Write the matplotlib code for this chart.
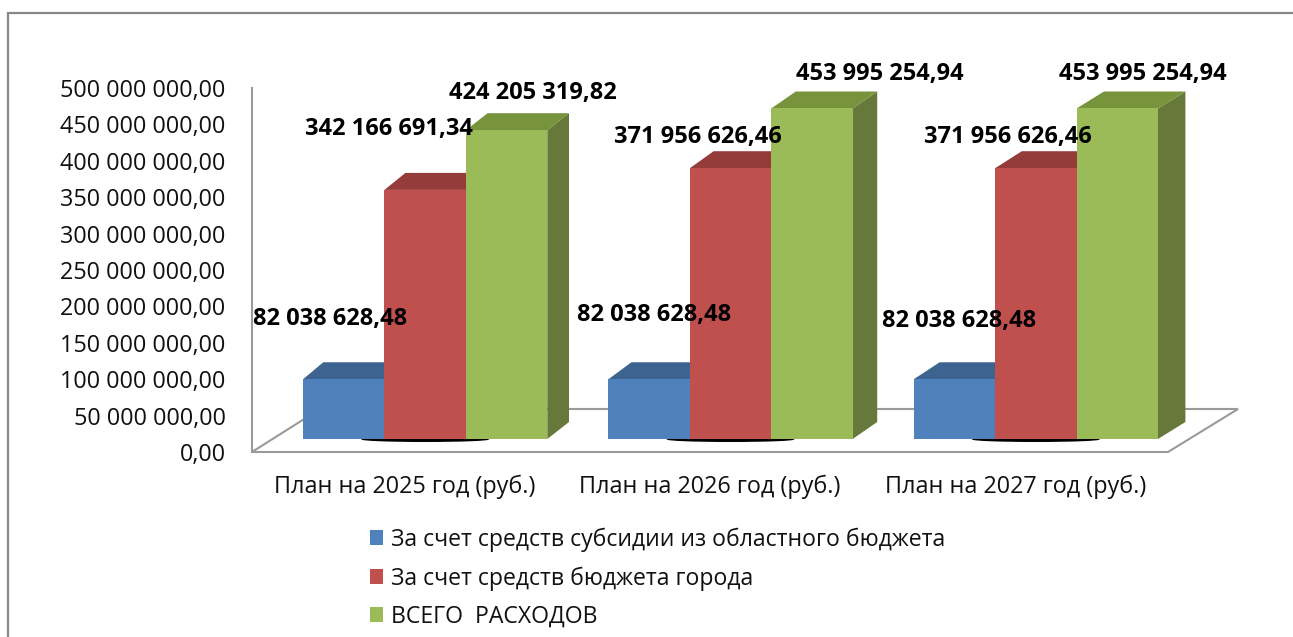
import numpy as np
import matplotlib
matplotlib.use('Agg')
import matplotlib.pyplot as plt
from matplotlib.patches import Polygon, Rectangle, Ellipse, Patch
from matplotlib.ticker import FuncFormatter

plt.rcParams['font.family'] = ['Open Sans', 'DejaVu Sans']

# data
categories = ['План на 2025 год (руб.)', 'План на 2026 год (руб.)', 'План на 2027 год (руб.)']
series_names = ['За счет средств субсидии из областного бюджета',
                'За счет средств бюджета города',
                'ВСЕГО  РАСХОДОВ']
subsidy = [82038628.48, 82038628.48, 82038628.48]
city = [342166691.34, 371956626.46, 371956626.46]
total = [424205319.82, 453995254.94, 453995254.94]

# colours: front, top, side
colors = [('#4F81BD', '#3D6491', '#385D8A'),
          ('#C0504D', '#943C3A', '#8C3836'),
          ('#9BBB59', '#77933C', '#67793A')]

# label offsets in pixels from front-top centre of each bar (right, up)
label_off = [[(-14, 60), (5, 64), (5, 58)],
             [(-36, 61), (-33, 31), (-28, 31)],
             [(26, 37), (68, 34), (26, 34)]]

W, H = 1293, 637
fig = plt.figure(figsize=(W / 100, H / 100), dpi=100)
ax_l, ax_r, ax_b, ax_t = 252, 1168, 452, 88
ax = fig.add_axes([ax_l / W, (H - ax_b) / H, (ax_r - ax_l) / W, (ax_b - ax_t) / H])
ymax = 500e6
ax.set_xlim(-0.5, 2.5)
ax.set_ylim(0, ymax)

PX_X = (ax_r - ax_l) / 3.0
PX_Y = (ax_b - ax_t) / ymax


def off(x, y, dx, dy):
    return x + dx / PX_X, y + dy / PX_Y


# outer frame
fig.add_artist(Rectangle((8 / W, -0.05), 1.1, (H - 13) / H + 0.05, transform=fig.transFigure,
                         fill=False, edgecolor='#888888', linewidth=1.6))

# floor
gray = '#9A9A9A'
fl = [(-0.5, 0), (2.5, 0), off(2.5, 0, 70, 43), off(-0.5, 0, 68, 43)]
ax.add_patch(Polygon(fl, closed=True, facecolor='white', edgecolor=gray, linewidth=1.5,
                     clip_on=False, zorder=1))
ax.plot([-0.5, -0.5], [0, ymax], color=gray, linewidth=1.5, clip_on=False, zorder=1)

for s in ax.spines.values():
    s.set_visible(False)

values = [subsidy, city, total]
bw = 0.8 / 3
for i in range(len(categories)):
    # shadow under bars
    sx, sy = off(i - 0.4 + 1.5 * bw, 0, 20.5, 12.5)
    ax.add_patch(Ellipse((sx, sy), 128 / PX_X, 5 / PX_Y, facecolor='black', edgecolor='none',
                         clip_on=False, zorder=2))
    for j, vals in enumerate(values):
        v = vals[i]
        x0, y0 = off(i - 0.4 + j * bw, 0, 20.5, 13)
        x1 = x0 + bw
        y1 = y0 + v
        ddx = 20 + 8 * (x0 + 0.4) / 2.8
        ddy = 17
        front, top, side = colors[j]
        z = 3 + j
        ax.add_patch(Polygon([(x1, y0), off(x1, y0, ddx, ddy), off(x1, y1, ddx, ddy), (x1, y1)],
                             facecolor=side, edgecolor='none', clip_on=False, zorder=z))
        ax.add_patch(Polygon([(x0, y1), (x1, y1), off(x1, y1, ddx, ddy), off(x0, y1, ddx, ddy)],
                             facecolor=top, edgecolor='none', clip_on=False, zorder=z))
        ax.add_patch(Rectangle((x0, y0), bw, v, facecolor=front, edgecolor='none',
                               clip_on=False, zorder=z))
        lx, ly = off((x0 + x1) / 2, y1, *label_off[j][i])
        txt = f'{v:,.2f}'.replace(',', ' ').replace('.', ',')
        ax.text(lx, ly, txt, ha='center', va='center', fontsize=17, fontweight='bold',
                color='black', zorder=10, clip_on=False)

ax.set_yticks(np.arange(0, ymax + 1, 50e6))
ax.yaxis.set_major_formatter(FuncFormatter(lambda v, p: f'{v:,.2f}'.replace(',', ' ').replace('.', ',')))
ax.set_xticks(range(len(categories)), categories)
ax.tick_params(axis='y', length=0, pad=19, labelsize=16.8, labelcolor='#111111')
ax.tick_params(axis='x', length=0, pad=16, labelsize=16.8, labelcolor='#111111')

handles = [Patch(facecolor=c[0], edgecolor='none') for c in colors]
fig.legend(handles, series_names, loc='upper left', bbox_to_anchor=(358 / W, (H - 516) / H),
           frameon=False, fontsize=16.6, handlelength=0.6, handleheight=0.6,
           handletextpad=0.35, labelspacing=0.62, borderpad=0, labelcolor='#111111')

fig.savefig('out.png', dpi=100)
